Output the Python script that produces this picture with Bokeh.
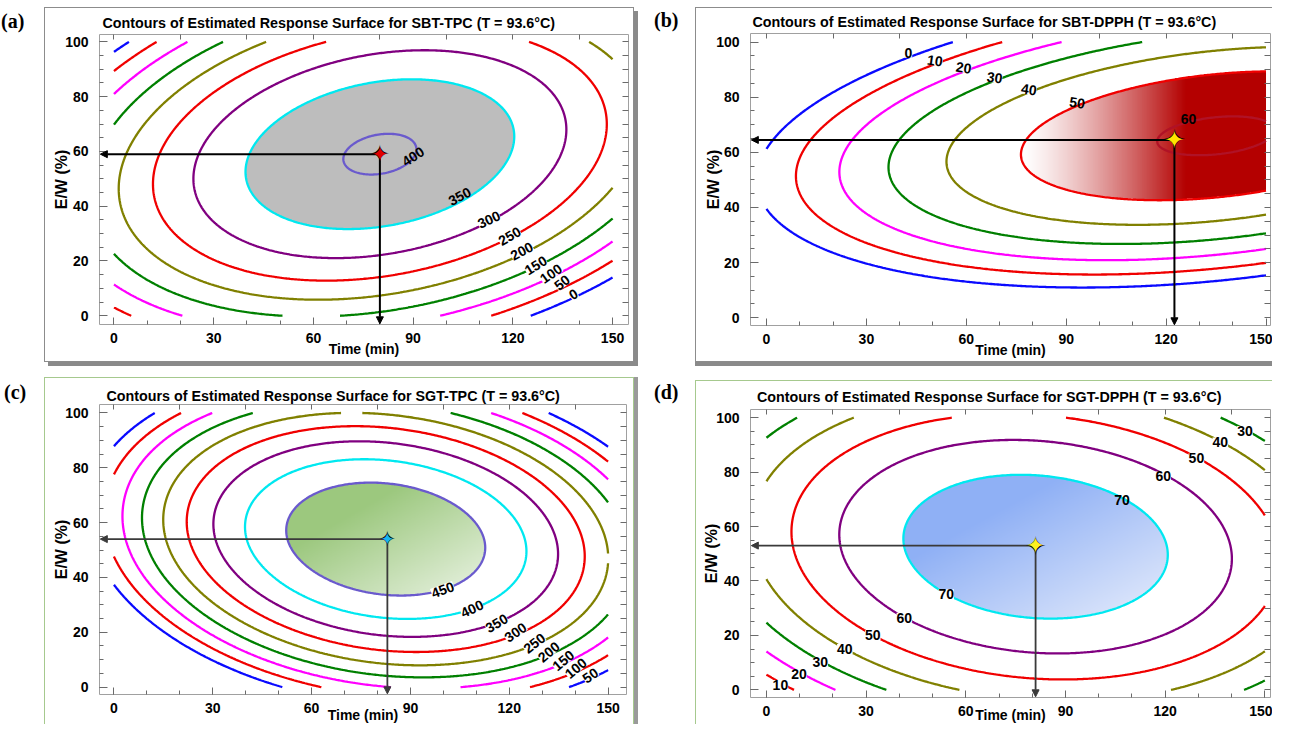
import numpy as np
from bokeh.plotting import figure
from bokeh.layouts import column, row
from bokeh.models import (LinearAxis, FixedTicker, Arrow, NormalHead, Range1d, Div, Spacer)
from bokeh.core.properties import value
from bokeh.embed import file_html
from bokeh.resources import INLINE

# ---------------------------------------------------------------- data
panel_tags = ["(a)", "(b)", "(c)", "(d)"]
titles = [
    "Contours of Estimated Response Surface for SBT-TPC (T = 93.6°C)",
    "Contours of Estimated Response Surface for SBT-DPPH (T = 93.6°C)",
    "Contours of Estimated Response Surface for SGT-TPC (T = 93.6°C)",
    "Contours of Estimated Response Surface for SGT-DPPH (T = 93.6°C)",
]
x_title = "Time (min)"
y_title = "E/W (%)"
x_ticks = [0, 30, 60, 90, 120, 150]
y_ticks = [0, 20, 40, 60, 80, 100]

# quadratic response surfaces read from the contour geometry
# z = peak - (a*dx^2 + b*dy^2 + c*dx*dy), dx = time - x0, dy = E/W - y0
surf_x0 = [80.0, 135.0, 82.5, 81.0]
surf_y0 = [59.0, 66.0, 54.0, 52.6]
surf_peak = [404.0, 61.0, 500.0, 78.3]
surf_a = [0.0350, 0.0035, 0.0561, 0.00531]
surf_b = [0.0765, 0.0220, 0.1207, 0.01205]
surf_c = [-0.0245, -0.0051, 0.0252, 0.0018]

levels_a = [0, 50, 100, 150, 200, 250, 300, 350, 400]
levels_b = [0, 10, 20, 30, 40, 50, 60]
levels_c = [50, 100, 150, 200, 250, 300, 350, 400, 450]
levels_d = [10, 20, 30, 40, 50, 60, 70]
fill_level = [350, 50, 450, 70]

# optimum points (star + arrows)
opt_x = [80.0, 122.5, 83.0, 81.0]
opt_y = [59.0, 64.5, 54.0, 53.0]

# contour labels
lab_a_text = ["400", "350", "300", "250", "200", "150", "100", "50", "0"]
lab_a_x = [90.0, 104.0, 112.8, 119.0, 122.7, 126.9, 131.5, 134.8, 138.2]
lab_a_y = [58.2, 43.6, 35.1, 29.1, 23.6, 18.4, 15.4, 12.1, 7.9]
lab_a_ang = [33, 28, 25, 30, 28, 32, 35, 38, 30]
lab_a_onfill = [True, True, False, False, False, False, False, False, False]

lab_b_text = ["0", "10", "20", "30", "40", "50", "60"]
lab_b_x = [42.6, 50.6, 59.2, 68.5, 78.8, 93.3, 126.7]
lab_b_y = [96.1, 93.3, 90.7, 87.1, 82.8, 78.0, 72.0]
lab_b_ang = [0, -8, -8, -8, -8, -8, 0]
lab_b_onfill = [False, False, False, False, False, True, True]

lab_c_text = ["450", "400", "350", "300", "250", "200", "150", "100", "50"]
lab_c_x = [99.8, 108.7, 116.2, 121.9, 127.6, 132.0, 136.4, 140.2, 144.6]
lab_c_y = [35.5, 28.6, 23.3, 20.0, 16.0, 12.8, 9.7, 6.9, 4.3]
lab_c_ang = [20, 25, 30, 35, 38, 40, 40, 40, 35]
lab_c_onfill = [False] * 9

lab_d_text = ["70", "60", "50", "40", "30", "70", "60", "50", "40", "30", "20", "10"]
lab_d_x = [107.0, 119.4, 129.4, 136.6, 144.0, 54.1, 41.5, 32.0, 23.6, 16.2, 9.8, 4.2]
lab_d_y = [69.9, 78.4, 85.1, 90.9, 95.1, 35.1, 26.5, 20.1, 15.0, 10.1, 5.7, 1.8]
lab_d_ang = [0] * 12
lab_d_onfill = [True] + [False] * 11

# ---------------------------------------------------------------- styles
BLUE, RED, MAG, GRN, OLV, PUR, CYN, SLT = ("#0a0aff", "#f00000", "#ff00ff", "#008000",
                                           "#808000", "#800080", "#00e8f0", "#6a5acd")
line_cols = [
    [BLUE, RED, MAG, GRN, OLV, RED, PUR, CYN, SLT],
    [BLUE, RED, MAG, GRN, OLV, RED, "#b01226"],
    [BLUE, RED, MAG, GRN, OLV, RED, PUR, CYN, SLT],
    [RED, MAG, GRN, OLV, RED, PUR, CYN],
]
all_levels = [levels_a, levels_b, levels_c, levels_d]
all_labels = [
    (lab_a_text, lab_a_x, lab_a_y, lab_a_ang, lab_a_onfill),
    (lab_b_text, lab_b_x, lab_b_y, lab_b_ang, lab_b_onfill),
    (lab_c_text, lab_c_x, lab_c_y, lab_c_ang, lab_c_onfill),
    (lab_d_text, lab_d_x, lab_d_y, lab_d_ang, lab_d_onfill),
]
star_cols = ["#e00000", "#ffe400", "#19b4f0", "#fff020"]
star_sizes = [20, 24, 17, 22]
arrow_cols = ["black", "black", "#3a3a3a", "#3a3a3a"]

FONT = "Liberation Sans"
GREY = "1px solid #8c8c8c"
GREEN = "1px solid #a6c98e"

# per-panel layout (canvas pixels)
layout = [
    dict(W=590, H=355, mins=(54, 7, 25, 39), xr=(-4.36, 154.8), yr=(-3.2, 102.7),
         t_off=3, t_std=8, ylab_std=-8, xlab_std=-5, top_pad=7,
         tag_pad=(7, 1), css={"border": GREY, "box-shadow": "4px 4px 0px #8a8a8a"}),
    dict(W=577, H=355, mins=(54, 3, 25, 38), xr=(-4.8, 151.35), yr=(-2.8, 103.1),
         t_off=2, t_std=6.5, ylab_std=-9, xlab_std=-5, top_pad=7,
         tag_pad=(6, 3), css={"border-left": GREY, "border-top": GREY, "border-bottom": GREY,
                              "box-shadow": "0px 4px 0px #8a8a8a"}),
    dict(W=590, H=347, mins=(54, 9, 26, 31), xr=(-4.4, 155.6), yr=(-2.7, 103.1),
         t_off=7, t_std=2, ylab_std=-8, xlab_std=-9, top_pad=15,
         tag_pad=(16, 4), css={"border-left": GREEN, "border-top": GREEN, "border-right": GREEN,
                               "box-shadow": "4px 0px 0px #9a9a9a"}),
    dict(W=577, H=344, mins=(54, 3, 28, 27), xr=(-4.8, 151.7), yr=(-2.8, 103.0),
         t_off=6.5, t_std=10, ylab_std=-7, xlab_std=-12, top_pad=18,
         tag_pad=(16, 3), css={"border-left": GREEN, "border-top": GREEN}),
]


def surface(k, X, Y):
    dx = X - surf_x0[k]
    dy = Y - surf_y0[k]
    return surf_peak[k] - (surf_a[k] * dx * dx + surf_b[k] * dy * dy + surf_c[k] * dx * dy)


def gradient_image(k, level, c0, c1, mode, bounds, power=1.0):
    nx, ny = 600, 400
    xc = (np.arange(nx) + 0.5) * 150.0 / nx
    yc = (np.arange(ny) + 0.5) * 100.0 / ny
    XX, YY = np.meshgrid(xc, yc)
    Z = surface(k, XX, YY)
    if mode == "x":
        t = np.clip((XX - bounds[0]) / (bounds[1] - bounds[0]), 0, 1) ** power
    else:
        s = ((XX - bounds[0]) / (bounds[1] - bounds[0]) + (bounds[3] - YY) / (bounds[3] - bounds[2])) / 2
        t = np.clip((s - 0.3) / 0.7, 0, 1)
    c0 = np.array(c0, dtype=float)
    c1 = np.array(c1, dtype=float)
    rgb = c0[None, None, :] * (1 - t[..., None]) + c1[None, None, :] * t[..., None]
    img = np.zeros((ny, nx, 4), dtype=np.uint8)
    img[..., :3] = np.clip(rgb, 0, 255).astype(np.uint8)
    img[..., 3] = np.where(Z >= level, 255, 0).astype(np.uint8)
    return np.ascontiguousarray(img).view(np.uint32).reshape(ny, nx)


def style_axis(ax, ticks, minor, tin, min_in, labels=True):
    ax.ticker = FixedTicker(ticks=ticks, minor_ticks=minor)
    ax.axis_line_color = None
    ax.major_tick_in = tin
    ax.major_tick_out = 0
    ax.minor_tick_in = min_in
    ax.minor_tick_out = 0
    ax.major_tick_line_color = "#6a6a6a"
    ax.minor_tick_line_color = "#6a6a6a"
    ax.major_tick_line_width = 1
    if labels:
        ax.major_label_text_font = FONT
        ax.major_label_text_font_style = "bold"
        ax.major_label_text_font_size = "14px"
        ax.major_label_text_color = "black"
        ax.axis_label_text_font = FONT
        ax.axis_label_text_font_style = "bold"
        ax.axis_label_text_font_size = "14px"
        ax.axis_label_text_color = "black"
    else:
        ax.major_label_overrides = {t: "" for t in ticks}
        ax.major_label_text_font_size = "0px"
        ax.major_label_standoff = 0


xs = np.linspace(0, 150, 301)
ys = np.linspace(0, 100, 201)
GX, GY = np.meshgrid(xs, ys)

blocks = []
for k in range(4):
    L = layout[k]
    ml, mr, mt, mb = L["mins"]
    p = figure(width=L["W"], height=L["H"], x_range=Range1d(*L["xr"]), y_range=Range1d(*L["yr"]),
               output_backend="svg", toolbar_location=None,
               min_border_left=ml, min_border_right=mr, min_border_top=mt, min_border_bottom=mb,
               styles=L["css"])
    p.grid.visible = False
    p.outline_line_color = "#a0a0a0"
    p.outline_line_width = 1
    p.background_fill_color = "white"
    p.border_fill_color = "white"

    p.title.text = titles[k]
    p.title.align = "left"
    p.title.offset = L["t_off"]
    p.title.standoff = L["t_std"]
    p.title.text_font = FONT
    p.title.text_font_style = "bold"
    p.title.text_font_size = "14.3px"
    p.title.text_color = "black"

    xa = p.xaxis[0]
    style_axis(xa, x_ticks, list(range(0, 151, 10)), 7, 4)
    xa.major_label_standoff = 8
    xa.axis_label = x_title
    xa.axis_label_standoff = L["xlab_std"]
    ya = p.yaxis[0]
    style_axis(ya, y_ticks, list(range(0, 101, 5)), 8, 4)
    ya.major_label_standoff = 11
    ya.axis_label = y_title
    ya.axis_label_standoff = L["ylab_std"]
    ya.axis_label_text_font_size = "16px"
    top_ax = LinearAxis()
    style_axis(top_ax, list(range(0, 151, 20)), [], 5, 0, labels=False)
    p.add_layout(top_ax, "above")
    right_ax = LinearAxis()
    style_axis(right_ax, list(range(0, 101, 5)), [], 6, 0, labels=False)
    p.add_layout(right_ax, "right")

    Z = surface(k, GX, GY)
    # filled optimum region
    if k == 0:
        p.contour(GX, GY, Z, levels=[fill_level[0], 10000], fill_color="#bdbdbd")
    elif k == 1:
        img = gradient_image(k, fill_level[1], (255, 255, 255), (180, 0, 0), "x", (77, 126), 1.3)
        p.image_rgba(image=[img], x=0, y=0, dw=150, dh=100)
    elif k == 2:
        img = gradient_image(k, fill_level[2], (156, 200, 126), (236, 244, 230), "d", (52, 113, 33, 75))
        p.image_rgba(image=[img], x=0, y=0, dw=150, dh=100)
    else:
        img = gradient_image(k, fill_level[3], (143, 176, 245), (232, 238, 252), "d", (41, 121, 26, 79))
        p.image_rgba(image=[img], x=0, y=0, dw=150, dh=100)

    p.contour(GX, GY, Z, levels=all_levels[k], line_color=line_cols[k], line_width=2.3)

    # contour labels
    txt, lx, ly, lang, onfill = all_labels[k]
    for bg in (False, True):
        idx = [i for i in range(len(txt)) if onfill[i] != bg]
        if not idx:
            continue
        src = dict(x=[lx[i] for i in idx], y=[ly[i] for i in idx],
                   t=[txt[i] for i in idx], a=[lang[i] for i in idx])
        kw = dict(background_fill_color="white") if bg else {}
        p.text(x="x", y="y", text="t", angle="a", angle_units="deg", source=src,
               text_font=value(FONT), text_font_style="bold", text_font_size="14px",
               text_align="center", text_baseline="middle", text_color="black", **kw)

    # arrows from the optimum to the axes
    ox, oy = opt_x[k], opt_y[k]
    xr, yr = L["xr"], L["yr"]
    lw = 2.0 if k < 2 else 1.8
    for (xe, ye) in ((xr[0] + 0.25, oy), (ox, yr[0] + 0.25)):
        p.add_layout(Arrow(x_start=ox, y_start=oy, x_end=xe, y_end=ye,
                           line_color=arrow_cols[k], line_width=lw,
                           end=NormalHead(size=7, fill_color=arrow_cols[k], line_color=arrow_cols[k])))

    # optimum star
    s = star_sizes[k]
    r1 = p.text(x=[ox], y=[oy], text=["\u2726"], text_font=value("DejaVu Sans"),
                text_font_size=f"{s + 4}px", text_color="black",
                text_align="center", text_baseline="middle")
    r2 = p.text(x=[ox], y=[oy], text=["\u2726"], text_font=value("DejaVu Sans"),
                text_font_size=f"{s}px", text_color=star_cols[k],
                text_align="center", text_baseline="middle")
    r1.level = "overlay"
    r2.level = "overlay"

    pt, pl = L["tag_pad"]
    tag = Div(text=panel_tags[k], width=44, height=44, margin=0,
              styles={"font-family": "Liberation Serif", "font-weight": "bold",
                      "font-size": "20px", "color": "black",
                      "padding-top": f"{pt}px", "padding-left": f"{pl}px"})
    fig_col = column(Spacer(height=L["top_pad"], width=10, margin=0), p, spacing=0, margin=0)
    blocks.append((tag, fig_col))

top = row(blocks[0][0], blocks[0][1], Spacer(width=17, height=10, margin=0),
          blocks[1][0], blocks[1][1], spacing=0, margin=0)
bottom = row(blocks[2][0], blocks[2][1], Spacer(width=17, height=10, margin=0),
             blocks[3][0], blocks[3][1], spacing=0, margin=0)
page = column(top, bottom, spacing=0, margin=0)
open("out.html", "w").write(file_html(page, INLINE))
